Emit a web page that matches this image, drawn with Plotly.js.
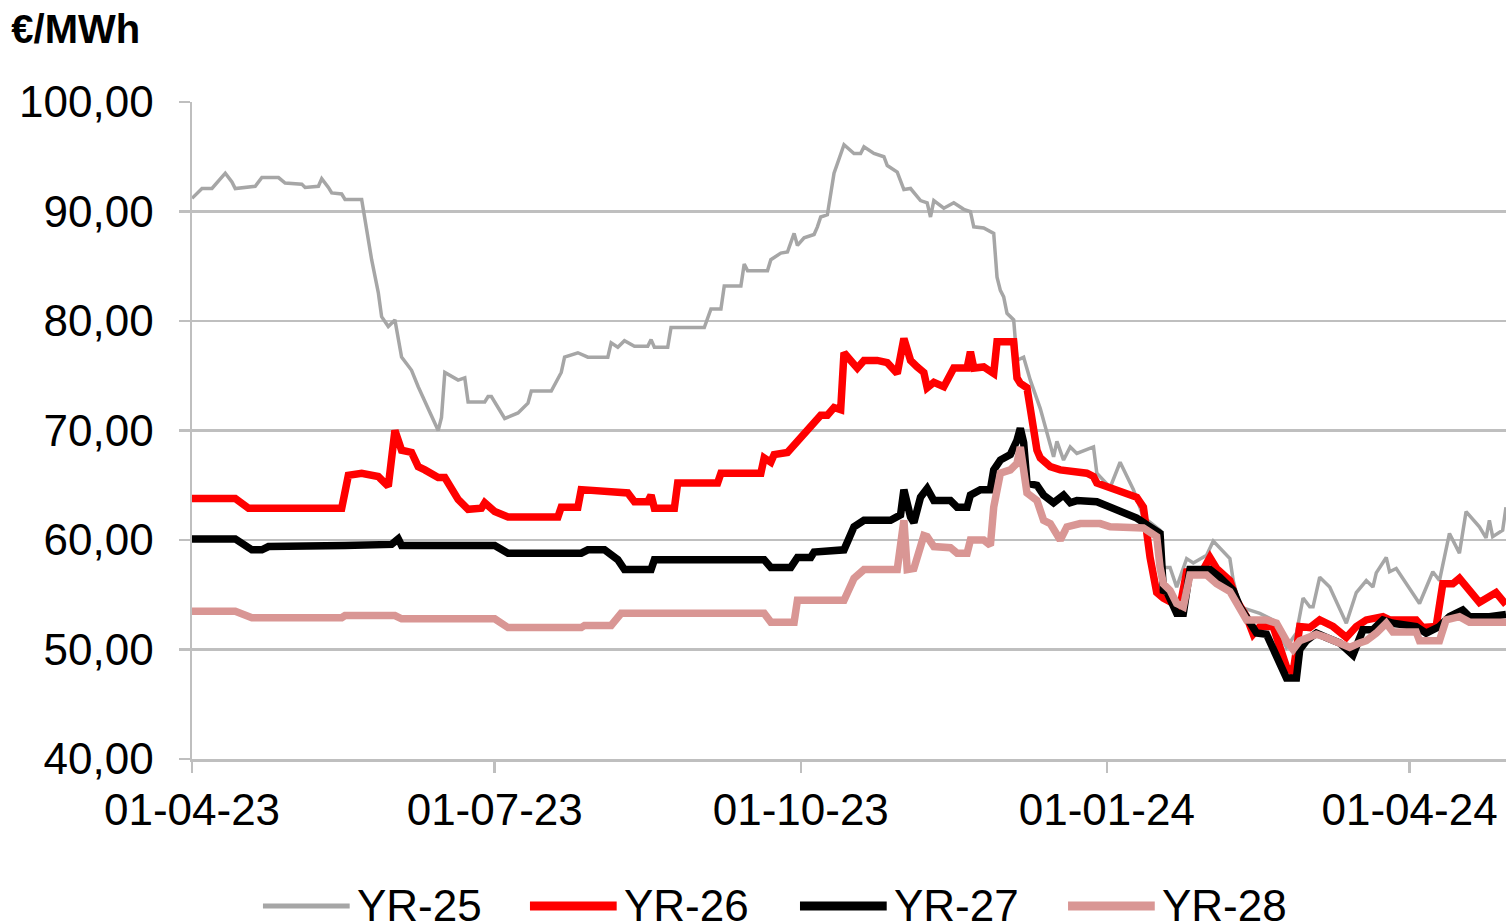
<!DOCTYPE html>
<html>
<head>
<meta charset="utf-8">
<script src="https://cdn.plot.ly/plotly-3.0.1.min.js"></script>
<style>html,body{margin:0;padding:0;background:#fff;}#chart{width:1506px;height:924px;}</style>
</head>
<body>
<div id="chart"></div>
<script>
const seriesNames = ['YR-25', 'YR-26', 'YR-27', 'YR-28'];
const seriesColors = ['#a6a6a6', '#ff0000', '#000000', '#d99694'];
const seriesWidths = [3.5, 7.5, 7.5, 7.5];
const xTickVals = ['2023-04-01', '2023-07-01', '2023-10-01', '2024-01-01', '2024-04-01'];
const xTickText = ['01-04-23', '01-07-23', '01-10-23', '01-01-24', '01-04-24'];
const yTickVals = [40, 50, 60, 70, 80, 90, 100];
const unitLabel = '€/MWh';

const yr25Dates = ['2023-04-01','2023-04-04','2023-04-07','2023-04-11','2023-04-13','2023-04-14','2023-04-20','2023-04-22','2023-04-27','2023-04-29','2023-05-04','2023-05-05','2023-05-09','2023-05-10','2023-05-12','2023-05-13','2023-05-16','2023-05-17','2023-05-22','2023-05-23','2023-05-24','2023-05-25','2023-05-27','2023-05-28','2023-05-30','2023-06-01','2023-06-03','2023-06-06','2023-06-08','2023-06-14','2023-06-15','2023-06-16','2023-06-20','2023-06-22','2023-06-23','2023-06-28','2023-06-29','2023-06-30','2023-07-04','2023-07-08','2023-07-11','2023-07-12','2023-07-18','2023-07-21','2023-07-22','2023-07-26','2023-07-29','2023-08-04','2023-08-05','2023-08-07','2023-08-09','2023-08-12','2023-08-16','2023-08-17','2023-08-18','2023-08-22','2023-08-23','2023-09-02','2023-09-04','2023-09-07','2023-09-08','2023-09-13','2023-09-14','2023-09-15','2023-09-21','2023-09-22','2023-09-25','2023-09-27','2023-09-29','2023-09-30','2023-10-02','2023-10-05','2023-10-06','2023-10-07','2023-10-09','2023-10-11','2023-10-14','2023-10-17','2023-10-19','2023-10-20','2023-10-23','2023-10-26','2023-10-27','2023-10-30','2023-11-01','2023-11-03','2023-11-06','2023-11-08','2023-11-09','2023-11-10','2023-11-13','2023-11-16','2023-11-19','2023-11-21','2023-11-22','2023-11-25','2023-11-28','2023-11-29','2023-11-30','2023-12-01','2023-12-02','2023-12-04','2023-12-05','2023-12-07','2023-12-09','2023-12-12','2023-12-16','2023-12-17','2023-12-19','2023-12-21','2023-12-23','2023-12-28','2023-12-29','2024-01-02','2024-01-05','2024-01-09','2024-01-12','2024-01-17','2024-01-18','2024-01-20','2024-01-22','2024-01-25','2024-01-27','2024-01-31','2024-02-02','2024-02-04','2024-02-07','2024-02-08','2024-02-10','2024-02-13','2024-02-16','2024-02-20','2024-02-24','2024-02-27','2024-02-29','2024-03-02','2024-03-03','2024-03-05','2024-03-08','2024-03-13','2024-03-16','2024-03-19','2024-03-21','2024-03-22','2024-03-25','2024-03-26','2024-03-28','2024-04-04','2024-04-08','2024-04-10','2024-04-13','2024-04-16','2024-04-18','2024-04-22','2024-04-24','2024-04-25','2024-04-26','2024-04-29','2024-04-30'];
const yr25Values = [91.2,92.1,92.1,93.5,92.7,92.1,92.3,93.1,93.1,92.6,92.5,92.2,92.3,93.0,92.2,91.7,91.6,91.1,91.1,89.2,87.4,85.6,82.6,80.4,79.5,80.1,76.7,75.5,74.0,70.0,71.2,75.3,74.6,74.8,72.6,72.6,73.1,73.1,71.1,71.6,72.5,73.6,73.6,75.3,76.7,77.1,76.7,76.7,78.0,77.6,78.2,77.7,77.7,78.3,77.6,77.6,79.4,79.4,81.1,81.1,83.2,83.2,85.2,84.6,84.6,85.6,86.2,86.3,88.0,86.9,87.6,87.9,88.6,89.5,89.7,93.5,96.1,95.3,95.3,95.9,95.3,95.0,94.2,93.6,92.0,92.1,91.0,90.8,89.5,91.0,90.3,90.8,90.2,90.0,88.6,88.5,88.0,84.0,82.8,82.2,80.7,80.1,76.4,76.7,74.6,72.0,67.6,69.0,67.3,68.5,67.9,68.5,66.1,64.8,67.1,64.6,62.1,60.9,57.5,57.5,55.7,58.3,57.9,58.6,59.9,59.3,58.3,56.3,53.9,53.6,53.3,52.7,50.2,51.5,54.7,53.9,53.9,56.6,55.7,52.4,55.2,56.3,55.7,57.0,58.4,57.1,57.4,54.2,57.1,56.3,60.6,58.8,62.6,61.2,60.2,61.8,60.3,60.9,63.0];

const yr26Dates = ['2023-04-01','2023-04-14','2023-04-18','2023-05-16','2023-05-18','2023-05-22','2023-05-27','2023-05-30','2023-06-01','2023-06-03','2023-06-06','2023-06-08','2023-06-10','2023-06-14','2023-06-16','2023-06-20','2023-06-23','2023-06-27','2023-06-28','2023-07-01','2023-07-05','2023-07-20','2023-07-21','2023-07-26','2023-07-27','2023-08-10','2023-08-12','2023-08-16','2023-08-17','2023-08-18','2023-08-24','2023-08-25','2023-09-06','2023-09-07','2023-09-19','2023-09-20','2023-09-22','2023-09-23','2023-09-27','2023-10-02','2023-10-05','2023-10-07','2023-10-09','2023-10-11','2023-10-13','2023-10-14','2023-10-16','2023-10-18','2023-10-20','2023-10-24','2023-10-27','2023-10-30','2023-11-01','2023-11-03','2023-11-05','2023-11-07','2023-11-08','2023-11-10','2023-11-13','2023-11-16','2023-11-20','2023-11-21','2023-11-22','2023-11-25','2023-11-28','2023-11-29','2023-12-04','2023-12-05','2023-12-06','2023-12-08','2023-12-11','2023-12-12','2023-12-15','2023-12-18','2023-12-26','2023-12-28','2023-12-29','2024-01-05','2024-01-10','2024-01-12','2024-01-14','2024-01-16','2024-01-18','2024-01-21','2024-01-23','2024-01-25','2024-01-30','2024-02-01','2024-02-03','2024-02-07','2024-02-09','2024-02-12','2024-02-14','2024-02-16','2024-02-20','2024-02-24','2024-02-26','2024-02-28','2024-03-02','2024-03-05','2024-03-09','2024-03-13','2024-03-16','2024-03-19','2024-03-24','2024-03-26','2024-04-03','2024-04-05','2024-04-09','2024-04-11','2024-04-14','2024-04-16','2024-04-18','2024-04-22','2024-04-27','2024-04-30'];
const yr26Values = [63.8,63.8,62.9,62.9,65.9,66.1,65.8,64.9,70.0,68.2,68.0,66.7,66.4,65.7,65.7,63.7,62.8,62.9,63.4,62.6,62.1,62.1,63.0,63.0,64.6,64.3,63.5,63.5,64.1,62.9,62.9,65.2,65.2,66.1,66.1,67.5,67.1,67.8,68.0,69.6,70.8,71.4,71.4,72.1,71.9,77.1,76.4,75.7,76.4,76.4,76.2,75.2,78.4,76.4,75.8,75.3,73.9,74.4,74.0,75.7,75.7,77.2,75.7,75.8,75.2,78.1,78.1,74.8,74.3,73.9,68.2,67.5,66.7,66.4,66.1,65.8,65.2,64.5,63.9,63.0,58.4,55.2,54.7,54.2,53.9,57.1,57.3,58.4,57.4,56.3,54.5,53.0,51.4,52.1,52.1,48.4,47.9,52.1,52.0,52.7,52.1,51.1,52.1,52.7,53.0,52.7,52.7,52.0,52.1,56.0,56.0,56.5,55.7,54.3,55.2,54.1];

const yr27Dates = ['2023-04-01','2023-04-14','2023-04-19','2023-04-22','2023-04-24','2023-05-16','2023-05-17','2023-05-31','2023-06-02','2023-06-03','2023-07-01','2023-07-05','2023-07-27','2023-07-29','2023-08-03','2023-08-07','2023-08-09','2023-08-17','2023-08-18','2023-09-20','2023-09-22','2023-09-28','2023-09-30','2023-10-04','2023-10-05','2023-10-14','2023-10-17','2023-10-20','2023-10-28','2023-10-31','2023-11-01','2023-11-03','2023-11-04','2023-11-06','2023-11-08','2023-11-10','2023-11-15','2023-11-17','2023-11-20','2023-11-21','2023-11-24','2023-11-27','2023-11-28','2023-11-30','2023-12-03','2023-12-05','2023-12-06','2023-12-07','2023-12-08','2023-12-11','2023-12-13','2023-12-16','2023-12-19','2023-12-21','2023-12-23','2023-12-29','2024-01-02','2024-01-06','2024-01-10','2024-01-14','2024-01-17','2024-01-18','2024-01-19','2024-01-22','2024-01-24','2024-01-26','2024-02-01','2024-02-04','2024-02-08','2024-02-10','2024-02-13','2024-02-15','2024-02-18','2024-02-20','2024-02-23','2024-02-24','2024-02-27','2024-02-28','2024-03-01','2024-03-04','2024-03-07','2024-03-11','2024-03-15','2024-03-18','2024-03-21','2024-03-24','2024-03-27','2024-04-03','2024-04-06','2024-04-10','2024-04-13','2024-04-17','2024-04-19','2024-04-25','2024-04-30'];
const yr27Values = [60.1,60.1,59.1,59.1,59.4,59.4,59.5,59.6,60.1,59.5,59.5,58.8,58.8,59.1,59.1,58.2,57.3,57.3,58.2,58.2,57.5,57.5,58.4,58.4,58.9,59.1,61.2,61.8,61.8,62.3,64.6,62.1,61.6,63.9,64.7,63.6,63.6,63.0,63.0,64.1,64.6,64.6,66.4,67.3,67.8,69.1,70.2,68.9,65.2,65.0,64.1,63.4,64.1,63.4,63.6,63.5,63.0,62.6,62.0,61.2,60.6,55.4,55.3,53.3,53.3,57.3,57.3,56.6,55.4,53.9,52.4,51.5,51.4,50.0,47.9,47.4,47.4,50.0,50.8,51.5,51.1,50.6,49.5,51.8,51.8,52.7,52.4,52.1,51.5,52.1,53.0,53.6,53.0,53.0,53.2];

const yr28Dates = ['2023-04-01','2023-04-14','2023-04-19','2023-05-16','2023-05-17','2023-06-01','2023-06-03','2023-07-01','2023-07-05','2023-07-27','2023-07-28','2023-08-05','2023-08-08','2023-09-20','2023-09-22','2023-09-29','2023-09-30','2023-10-14','2023-10-17','2023-10-20','2023-10-30','2023-11-01','2023-11-02','2023-11-04','2023-11-07','2023-11-08','2023-11-10','2023-11-15','2023-11-17','2023-11-20','2023-11-21','2023-11-25','2023-11-27','2023-11-28','2023-11-30','2023-12-03','2023-12-05','2023-12-06','2023-12-07','2023-12-08','2023-12-11','2023-12-13','2023-12-15','2023-12-18','2023-12-20','2023-12-24','2023-12-30','2024-01-02','2024-01-12','2024-01-16','2024-01-17','2024-01-18','2024-01-20','2024-01-22','2024-01-24','2024-01-26','2024-01-31','2024-02-03','2024-02-07','2024-02-10','2024-02-12','2024-02-18','2024-02-21','2024-02-24','2024-02-26','2024-02-28','2024-03-01','2024-03-04','2024-03-07','2024-03-11','2024-03-14','2024-03-17','2024-03-19','2024-03-22','2024-03-25','2024-03-27','2024-04-03','2024-04-04','2024-04-10','2024-04-12','2024-04-16','2024-04-19','2024-04-30'];
const yr28Values = [53.5,53.5,52.9,52.9,53.1,53.1,52.8,52.8,52.0,52.0,52.2,52.2,53.3,53.3,52.5,52.5,54.5,54.5,56.5,57.3,57.3,61.8,57.3,57.4,60.4,60.3,59.4,59.3,58.8,58.8,60.0,60.0,59.5,63.0,66.1,66.4,67.0,68.5,66.4,64.3,63.6,61.8,61.5,60.0,61.2,61.5,61.5,61.2,61.1,60.3,57.5,56.0,55.4,54.2,53.9,56.8,56.8,56.0,55.3,53.9,52.7,52.7,52.4,50.8,50.0,50.8,51.1,51.4,51.1,50.6,50.2,50.6,50.8,51.5,52.4,51.6,51.6,50.8,50.8,52.7,53.0,52.5,52.5];

const allDates = [yr25Dates, yr26Dates, yr27Dates, yr28Dates];
const allValues = [yr25Values, yr26Values, yr27Values, yr28Values];

const gridColor = '#bfbfbf';
const fontFamily = 'Liberation Sans, Arial, sans-serif';

const traces = seriesNames.map((name, i) => ({
  type: 'scatter',
  mode: 'lines',
  name: name,
  x: allDates[i],
  y: allValues[i],
  line: {color: seriesColors[i], width: seriesWidths[i], shape: 'linear'},
  showlegend: false,
  hoverinfo: 'x+y+name'
}));

// custom legend (long line samples like the original)
const legendStartX = [0.054, 0.2572, 0.4627, 0.6667];
const legendLineLen = 0.066;
const legendY = -0.2237;
const shapes = [];
const annotations = [];
seriesNames.forEach((name, i) => {
  shapes.push({
    type: 'line', xref: 'paper', yref: 'paper',
    x0: legendStartX[i], x1: legendStartX[i] + legendLineLen,
    y0: legendY, y1: legendY,
    line: {color: seriesColors[i], width: i === 0 ? 5 : 9}
  });
  annotations.push({
    xref: 'paper', yref: 'paper',
    x: legendStartX[i] + legendLineLen + 0.004, y: legendY,
    xanchor: 'left', yanchor: 'middle',
    text: name, showarrow: false,
    font: {family: fontFamily, size: 44, color: '#000'}
  });
});

const layout = {
  width: 1506, height: 924,
  margin: {l: 192, r: 0, t: 102, b: 165, pad: 0},
  paper_bgcolor: '#fff', plot_bgcolor: '#fff',
  separators: ',.',
  showlegend: false,
  title: {
    text: '<b>' + unitLabel + '</b>',
    font: {family: fontFamily, size: 40, color: '#000'},
    xref: 'container', yref: 'container',
    x: 0.0075, xanchor: 'left', y: 0.984, yanchor: 'top'
  },
  xaxis: {
    type: 'date',
    range: ['2023-04-01', '2024-04-30'],
    tickvals: xTickVals, ticktext: xTickText,
    showgrid: false, zeroline: false,
    showline: true, linecolor: gridColor, linewidth: 2.5,
    ticks: 'outside', ticklen: 11, tickwidth: 2.5, tickcolor: gridColor,
    tickfont: {family: fontFamily, size: 44, color: '#000'},
    fixedrange: true
  },
  yaxis: {
    range: [40, 100],
    tickvals: yTickVals, tickformat: '.2f',
    showgrid: true, gridcolor: gridColor, gridwidth: 2.5,
    zeroline: false,
    showline: true, linecolor: gridColor, linewidth: 2.5,
    ticks: 'outside', ticklen: 11, tickwidth: 2.5, tickcolor: gridColor,
    ticklabelstandoff: 16,
    tickfont: {family: fontFamily, size: 44, color: '#000'},
    fixedrange: true
  },
  shapes: shapes,
  annotations: annotations
};

Plotly.newPlot('chart', traces, layout, {displayModeBar: false, staticPlot: true});
</script>
</body>
</html>
